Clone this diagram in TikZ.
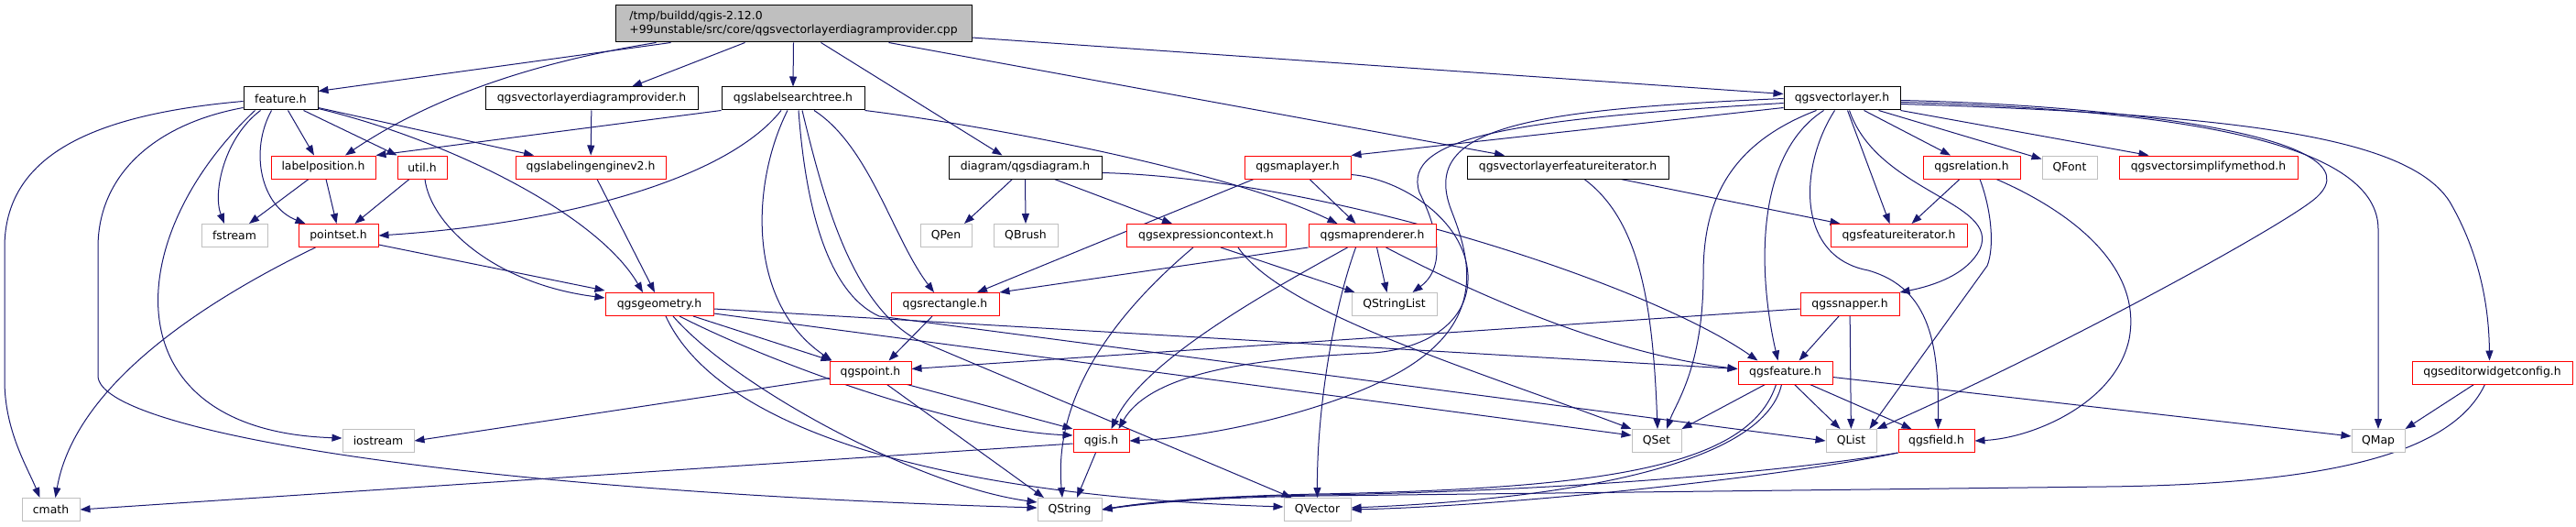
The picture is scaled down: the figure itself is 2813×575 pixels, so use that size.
\documentclass[tikz,border=0pt]{standalone}
\usepackage{fontspec}
\newfontfamily\graphfont{DejaVu Sans}
\usetikzlibrary{arrows.meta, backgrounds}
\definecolor{edgeblue}{RGB}{25,25,112}
\definecolor{extgray}{RGB}{191,191,191}
\definecolor{cutred}{RGB}{255,0,0}

\begin{document}
\begin{tikzpicture}[
  x=1pt, y=1pt,
  header/.style={
    rectangle, draw=black, line width=1pt, fill=white,
    minimum height=25pt, inner sep=1pt,
    font=\graphfont\fontsize{12.4}{15}\selectfont
  },
  truncated/.style={header, draw=cutred},
  external/.style={header, draw=extgray},
  source/.style={header, fill=extgray, align=left, minimum height=40pt},
  include/.style={draw=edgeblue, line width=1pt, -{Triangle[length=11pt, width=8pt]}}
]

\useasboundingbox (0,0) rectangle (2813,-575);

% ----------------- SOURCE FILE -----------------
\node[source, minimum width=389pt] (f_root) at (866.5,-26) {/tmp/buildd/qgis-2.12.0\\+99unstable/src/core/qgsvectorlayerdiagramprovider.cpp};

% ----------------- ROW 1 -----------------
\node[header, minimum width=81pt] (f_feat) at (306.5,-107.5) {feature.h};
\node[header, minimum width=232pt] (f_vldp) at (646,-107.5) {qgsvectorlayerdiagramprovider.h};
\node[header, minimum width=156pt] (f_lst) at (866,-107.5) {qgslabelsearchtree.h};
\node[header, minimum width=127pt] (f_vl) at (2011.5,-107.5) {qgsvectorlayer.h};

% ----------------- ROW 2 -----------------
\node[truncated, minimum width=114pt] (f_lpos) at (353,-182.5) {labelposition.h};
\node[truncated, minimum width=54pt] (f_util) at (461,-182.5) {util.h};
\node[truncated, minimum width=164pt] (f_leng) at (645,-182.5) {qgslabelingenginev2.h};
\node[header, minimum width=167pt] (f_diag) at (1119.5,-182.5) {diagram/qgsdiagram.h};
\node[truncated, minimum width=116pt] (f_mlay) at (1417,-182.5) {qgsmaplayer.h};
\node[header, minimum width=220pt] (f_vlfi) at (1712,-182.5) {qgsvectorlayerfeatureiterator.h};
\node[truncated, minimum width=106pt] (f_rel) at (2153,-182.5) {qgsrelation.h};
\node[external, minimum width=60pt] (f_font) at (2260,-182.5) {QFont};
\node[truncated, minimum width=195pt] (f_vsm) at (2411.5,-182.5) {qgsvectorsimplifymethod.h};

% ----------------- ROW 3 -----------------
\node[external, minimum width=72pt] (f_fstr) at (256,-257) {fstream};
\node[truncated, minimum width=87pt] (f_pset) at (369.5,-257) {pointset.h};
\node[external, minimum width=56pt] (f_pen) at (1033,-257) {QPen};
\node[external, minimum width=70pt] (f_brush) at (1120,-257) {QBrush};
\node[truncated, minimum width=174pt] (f_expr) at (1317,-257) {qgsexpressioncontext.h};
\node[truncated, minimum width=139pt] (f_mren) at (1498.5,-257) {qgsmaprenderer.h};
\node[truncated, minimum width=149pt] (f_fit) at (2073.5,-257) {qgsfeatureiterator.h};

% ----------------- ROW 4 -----------------
\node[truncated, minimum width=118pt] (f_geom) at (720,-332) {qgsgeometry.h};
\node[truncated, minimum width=118pt] (f_rect) at (1032,-332) {qgsrectangle.h};
\node[external, minimum width=93pt] (f_strl) at (1522.5,-332) {QStringList};
\node[truncated, minimum width=108pt] (f_snap) at (2020,-332) {qgssnapper.h};

% ----------------- ROW 5 -----------------
\node[truncated, minimum width=89pt] (f_pnt) at (950.5,-406.5) {qgspoint.h};
\node[truncated, minimum width=103pt] (f_qfeat) at (1949.5,-406.5) {qgsfeature.h};
\node[truncated, minimum width=175pt] (f_ewc) at (2721.5,-406.5) {qgseditorwidgetconfig.h};

% ----------------- ROW 6 -----------------
\node[external, minimum width=78pt] (f_ios) at (413,-481) {iostream};
\node[truncated, minimum width=61pt] (f_qgis) at (1202.5,-481) {qgis.h};
\node[external, minimum width=54pt] (f_set) at (1809,-481) {QSet};
\node[external, minimum width=55pt] (f_list) at (2021.5,-481) {QList};
\node[truncated, minimum width=83pt] (f_field) at (2114.5,-481) {qgsfield.h};
\node[external, minimum width=58pt] (f_map) at (2597,-481) {QMap};

% ----------------- ROW 7 -----------------
\node[external, minimum width=63pt] (f_cmath) at (55.5,-556) {cmath};
\node[external, minimum width=70pt] (f_str) at (1168,-556) {QString};
\node[external, minimum width=73pt] (f_vec) at (1438.5,-556) {QVector};

\begin{scope}[on background layer]
% ----------------- SOURCE INCLUDES -----------------
\draw[include] ([xshift=61]f_root.south west) -- ([yshift=8]f_feat.east);
\draw[include] ([xshift=45]f_root.south west) .. controls (600,-65) and (480,-100) .. ([xshift=24]f_lpos.north);
\draw[include] ([xshift=-53]f_root.south) -- ([xshift=44]f_vldp.north);
\draw[include] (f_root.south) -- (f_lst.north);
\draw[include] ([xshift=30]f_root.south) -- ([xshift=-25]f_diag.north);
\draw[include] ([xshift=104]f_root.south) -- ([xshift=-69]f_vlfi.north);
\draw[include] ([yshift=-15]f_root.east) -- ([yshift=5]f_vl.west);

% ----------------- FEATURE.H -----------------
\draw[include] ([xshift=8]f_feat.south) -- ([xshift=-10]f_lpos.north);
\draw[include] ([xshift=25]f_feat.south) -- (f_util.north west);
\draw[include] ([yshift=-10]f_feat.east) -- ([xshift=-62]f_leng.north);
\draw[include] ([yshift=-11]f_feat.east) .. controls (480,-150) and (650,-230) .. ([xshift=-18]f_geom.north);
\draw[include] ([xshift=-10]f_feat.south) .. controls (272,-165) and (285,-225) .. ([xshift=-36]f_pset.north);
\draw[include] ([xshift=-22]f_feat.south) .. controls (245,-150) and (232,-210) .. ([xshift=-11]f_fstr.north);
\draw[include] ([xshift=-28]f_feat.south) .. controls (130,-260) and (120,-470) .. ([yshift=3]f_ios.west);
\draw[include] ([yshift=-10]f_feat.west) .. controls (170,-135) and (107,-190) .. (107,-270) -- (107,-410)
  .. controls (107,-470) and (500,-535) .. ([yshift=2]f_str.west);
\draw[include] ([yshift=-3]f_feat.west) .. controls (100,-125) and (5,-170) .. (5,-270) -- (5,-415)
  .. controls (5,-470) and (30,-510) .. ([xshift=-12]f_cmath.north);

% ----------------- PAL HEADERS -----------------
\draw[include] ([xshift=-16]f_lpos.south) -- ([xshift=16]f_fstr.north);
\draw[include] ([xshift=3]f_lpos.south) -- ([xshift=-2]f_pset.north);
\draw[include] ([xshift=-14]f_util.south) -- ([xshift=18]f_pset.north);
\draw[include] ([xshift=3]f_util.south) .. controls (470,-245) and (540,-310) .. ([yshift=7]f_geom.west);
\draw[include] ([yshift=-10]f_pset.east) -- ([yshift=15]f_geom.west);
\draw[include] ([xshift=-25]f_pset.south) .. controls (200,-340) and (80,-430) .. ([xshift=5]f_cmath.north);

% ----------------- LABEL SEARCH TREE -----------------
\draw[include] (f_lst.south west) -- (f_lpos.north east);
\draw[include] ([xshift=-13]f_lst.south) .. controls (790,-200) and (600,-245) .. (f_pset.east);
\draw[include] ([xshift=-6]f_lst.south) .. controls (820,-200) and (815,-330) .. ([xshift=-42]f_pnt.north);
\draw[include] ([xshift=6]f_lst.south) .. controls (880,-230) and (905,-320) .. (960,-345) -- (f_list.west);
\draw[include] ([xshift=10]f_lst.south) .. controls (900,-220) and (930,-330) .. (1000,-370) -- ([xshift=-28]f_vec.north);
\draw[include] ([xshift=23]f_lst.south) .. controls (950,-160) and (975,-260) .. ([xshift=-12]f_rect.north);
\draw[include] (f_lst.south east) .. controls (1100,-140) and (1350,-190) .. ([xshift=-38]f_mren.north);

\draw[include] (f_vldp) -- (f_leng);
\draw[include] ([xshift=7]f_leng.south) -- ([xshift=-5]f_geom.north);

% ----------------- DIAGRAM -----------------
\draw[include] ([xshift=-14]f_diag.south) -- ([xshift=20]f_pen.north);
\draw[include] (f_diag.south) -- (f_brush.north);
\draw[include] ([xshift=32]f_diag.south) -- ([xshift=-37]f_expr.north);
\draw[include] ([yshift=-6]f_diag.east) .. controls (1450,-195) and (1800,-310) .. ([xshift=-30]f_qfeat.north);

% ----------------- MAP LAYER / RENDERER -----------------
\draw[include] ([xshift=13]f_mlay.south) -- ([xshift=-18]f_mren.north);
\draw[include] ([xshift=-48]f_mlay.south) -- ([xshift=35]f_rect.north);
\draw[include] ([yshift=-8]f_mlay.east) .. controls (1530,-195) and (1600,-240) .. (1603,-300)
  .. controls (1605,-350) and (1560,-380) .. (1500,-385) .. controls (1400,-390) and (1260,-400) .. ([xshift=19]f_qgis.north);
\draw[include] (f_mren.south west) -- (f_rect.north east);
\draw[include] ([xshift=5]f_mren.south) -- ([xshift=-8]f_strl.north);
\draw[include] ([xshift=-27]f_mren.south) .. controls (1400,-310) and (1250,-390) .. ([xshift=11]f_qgis.north);
\draw[include] ([xshift=-18]f_mren.south) .. controls (1455,-340) and (1438,-450) .. (f_vec.north);
\draw[include] ([xshift=15]f_mren.south) .. controls (1600,-315) and (1750,-385) .. ([yshift=4]f_qfeat.west);

% ----------------- EXPRESSION CONTEXT -----------------
\draw[include] ([xshift=-14]f_expr.south) .. controls (1220,-340) and (1150,-430) .. ([xshift=-8]f_str.north);
\draw[include] ([xshift=16]f_expr.south) -- ([xshift=-43]f_strl.north);
\draw[include] ([xshift=35]f_expr.south) .. controls (1400,-340) and (1600,-400) .. (f_set.north west);

% ----------------- VECTOR LAYER -----------------
\draw[include] ([yshift=-10]f_vl.west) -- (f_mlay.north east);
\draw[include] ([yshift=-5]f_vl.west) .. controls (1650,-130) and (1530,-150) .. (1550,-210)
  .. controls (1575,-260) and (1575,-295) .. ([xshift=20]f_strl.north);
\draw[include] (f_vl.west) .. controls (1660,-120) and (1550,-140) .. (1585,-230)
  .. controls (1605,-281) and (1625,-350) .. (1530,-405) .. controls (1450,-450) and (1320,-477) .. (f_qgis.east);
\draw[include] ([xshift=-28]f_vl.south) .. controls (1880,-160) and (1860,-230) .. (1860,-300)
  .. controls (1860,-400) and (1830,-440) .. ([xshift=11]f_set.north);
\draw[include] ([xshift=-20]f_vl.south) .. controls (1915,-170) and (1920,-300) .. ([xshift=-8]f_qfeat.north);
\draw[include] ([xshift=-8]f_vl.south) .. controls (1965,-180) and (1960,-280) .. (2040,-295)
  .. controls (2110,-315) and (2117,-380) .. ([xshift=2]f_field.north);
\draw[include] ([xshift=6]f_vl.south) -- ([xshift=-10]f_fit.north);
\draw[include] ([xshift=8]f_vl.south) .. controls (2050,-210) and (2185,-220) .. (2162,-272)
  .. controls (2148,-300) and (2110,-312) .. (f_snap.north east);
\draw[include] ([xshift=24]f_vl.south) -- ([xshift=-23]f_rel.north);
\draw[include] ([xshift=40]f_vl.south) -- ([yshift=9]f_font.west);
\draw[include] (f_vl.south east) -- ([xshift=-65]f_vsm.north);
\draw[include] ([yshift=-2]f_vl.east) .. controls (2320,-115) and (2600,-150) .. (2530,-215)
  .. controls (2500,-243) and (2250,-380) .. (f_list.north east);
\draw[include] ([yshift=-4]f_vl.east) .. controls (2400,-120) and (2597,-160) .. (2597,-250) -- (f_map.north);
\draw[include] ([yshift=-6]f_vl.east) .. controls (2450,-125) and (2630,-150) .. (2675,-220)
  .. controls (2710,-280) and (2718,-340) .. ([xshift=-3]f_ewc.north);

% ----------------- ITERATORS / RELATION -----------------
\draw[include] ([xshift=58]f_vlfi.south) -- ([xshift=-64]f_fit.north);
\draw[include] ([xshift=18]f_vlfi.south) .. controls (1790,-240) and (1805,-330) .. ([xshift=1]f_set.north);
\draw[include] ([xshift=-13]f_rel.south) -- ([xshift=14]f_fit.north);
\draw[include] ([xshift=9]f_rel.south) .. controls (2175,-230) and (2178,-270) .. (2170,-290) -- ([xshift=-8]f_list.north east);
\draw[include] ([xshift=27]f_rel.south) .. controls (2260,-230) and (2340,-290) .. (2325,-370)
  .. controls (2310,-440) and (2220,-478) .. (f_field.east);

% ----------------- GEOMETRY -----------------
\draw[include] ([xshift=37]f_geom.south) -- ([xshift=-43]f_pnt.north);
\draw[include] ([xshift=22]f_geom.south) .. controls (850,-400) and (1050,-470) .. ([yshift=6]f_qgis.west);
\draw[include] ([xshift=15]f_geom.south) .. controls (800,-420) and (1000,-530) .. ([yshift=8]f_str.west);
\draw[include] ([xshift=7]f_geom.south) .. controls (780,-460) and (1000,-540) .. ([yshift=3]f_vec.west);
\draw[include] ([yshift=-5]f_geom.east) -- ([yshift=4]f_qfeat.west);
\draw[include] ([yshift=-10]f_geom.east) -- ([yshift=6]f_set.west);
\draw[include] ([xshift=-14]f_rect.south) -- ([xshift=20]f_pnt.north);

% ----------------- SNAPPER / POINT / QGIS -----------------
\draw[include] ([yshift=-5]f_snap.west) -- ([yshift=4]f_pnt.east);
\draw[include] ([xshift=-12]f_snap.south) -- ([xshift=15]f_qfeat.north);
\draw[include] (f_snap) -- (f_list);
\draw[include] ([yshift=-6]f_pnt.west) -- (f_ios.east);
\draw[include] ([xshift=40]f_pnt.south) -- (f_qgis.north west);
\draw[include] ([xshift=18]f_pnt.south) -- ([xshift=-28]f_str.north);
\draw[include] ([yshift=-3]f_qgis.west) -- (f_cmath.east);
\draw[include] ([xshift=-6]f_qgis.south) -- ([xshift=8]f_str.north);

% ----------------- QGSFEATURE / FIELD / CONFIG -----------------
\draw[include] ([xshift=-22]f_qfeat.south) -- (f_set.north east);
\draw[include] ([xshift=-10]f_qfeat.south) .. controls (1910,-510) and (1750,-533) .. (1440,-539)
  .. controls (1300,-542) and (1240,-550) .. (f_str.east);
\draw[include] ([xshift=-4]f_qfeat.south) .. controls (1925,-510) and (1700,-545) .. ([yshift=2]f_vec.east);
\draw[include] ([xshift=10]f_qfeat.south) -- ([xshift=-12]f_list.north);
\draw[include] ([xshift=27]f_qfeat.south) -- ([xshift=-27]f_field.north);
\draw[include] ([yshift=-5]f_qfeat.east) -- ([yshift=5]f_map.west);
\draw[include] (f_field.south west) .. controls (1950,-515) and (1700,-536) .. (1440,-540)
  .. controls (1300,-542) and (1240,-550) .. (f_str.east);
\draw[include] (f_field.south west) .. controls (1950,-520) and (1650,-552) .. (f_vec.east);
\draw[include] ([xshift=-20]f_ewc.south) -- (f_map.north east);
\draw[include] ([xshift=-8]f_ewc.south) .. controls (2680,-490) and (2560,-528) .. (2300,-531) -- (1440,-541)
  .. controls (1300,-543) and (1240,-551) .. (f_str.east);
\end{scope}

\end{tikzpicture}
\end{document}
